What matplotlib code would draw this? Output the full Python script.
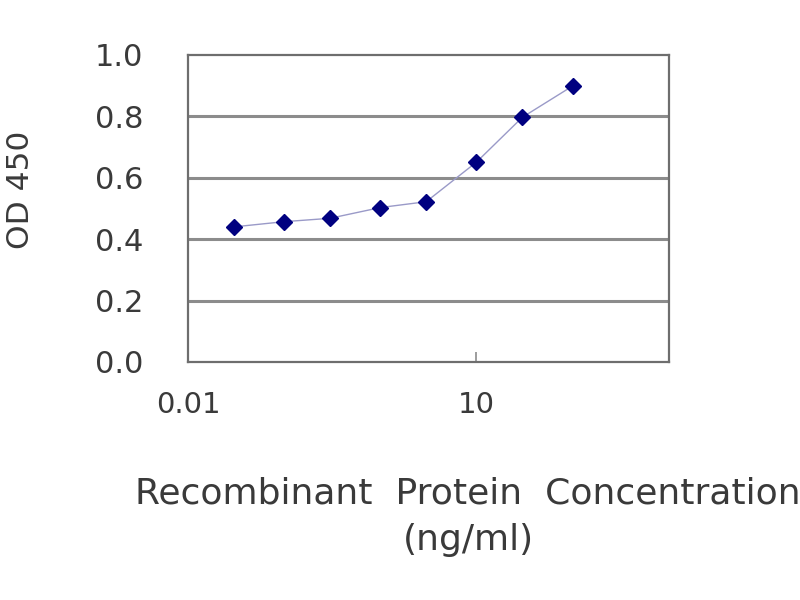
import numpy as np
import matplotlib
matplotlib.use("Agg")
import matplotlib.pyplot as plt
from matplotlib.ticker import FixedLocator, FixedFormatter, NullLocator

# concentrations (ng/ml) and OD readings
conc = [0.03, 0.1, 0.3, 1, 3, 10, 30, 100]
od = [0.44, 0.457, 0.468, 0.503, 0.522, 0.651, 0.797, 0.899]

x_ticks = [0.01, 10]
x_tick_labels = ["0.01", "10"]
y_ticks = [0.0, 0.2, 0.4, 0.6, 0.8, 1.0]

plt.rcParams['font.family'] = ['DejaVu Sans']

fig = plt.figure(figsize=(8, 6), dpi=100)
ax = fig.add_axes([0.235, 0.3967, 0.601, 0.5117])

ax.plot(conc, od, color='#9a9ac8', lw=1.0, marker='D', ms=8,
        mfc='#000080', mec='#000080', zorder=3)

ax.set_xscale('log')
ax.set_xlim(0.01, 1000)
ax.set_ylim(0, 1.0)
ax.xaxis.set_major_locator(FixedLocator(x_ticks))
ax.xaxis.set_major_formatter(FixedFormatter(x_tick_labels))
ax.xaxis.set_minor_locator(NullLocator())
ax.set_yticks(y_ticks)
ax.set_yticklabels([f"{v:.1f}" for v in y_ticks])

for v in y_ticks[1:-1]:
    ax.axhline(v, color='#8c8c8c', lw=2.2, zorder=1)

for s in ax.spines.values():
    s.set_color('#6e6e6e')
    s.set_linewidth(1.6)

ax.tick_params(axis='x', direction='in', length=7, width=1.2, color='#8c8c8c',
               labelsize=21, labelcolor='#3a3a3a', pad=21)
ax.tick_params(axis='y', length=0, labelsize=22, labelcolor='#3a3a3a', pad=32)

fig.text(0.026, 1 - 190 / 600, "OD 450", rotation=90, ha='center', va='center',
         fontsize=22.5, color='#3a3a3a')
fig.text(0.585, 1 - 503 / 600, "Recombinant  Protein  Concentration",
         ha='center', va='baseline', fontsize=26, color='#3a3a3a')
fig.text(0.585, 1 - 550 / 600, "(ng/ml)",
         ha='center', va='baseline', fontsize=26, color='#3a3a3a')

fig.savefig("out.png", dpi=100)
